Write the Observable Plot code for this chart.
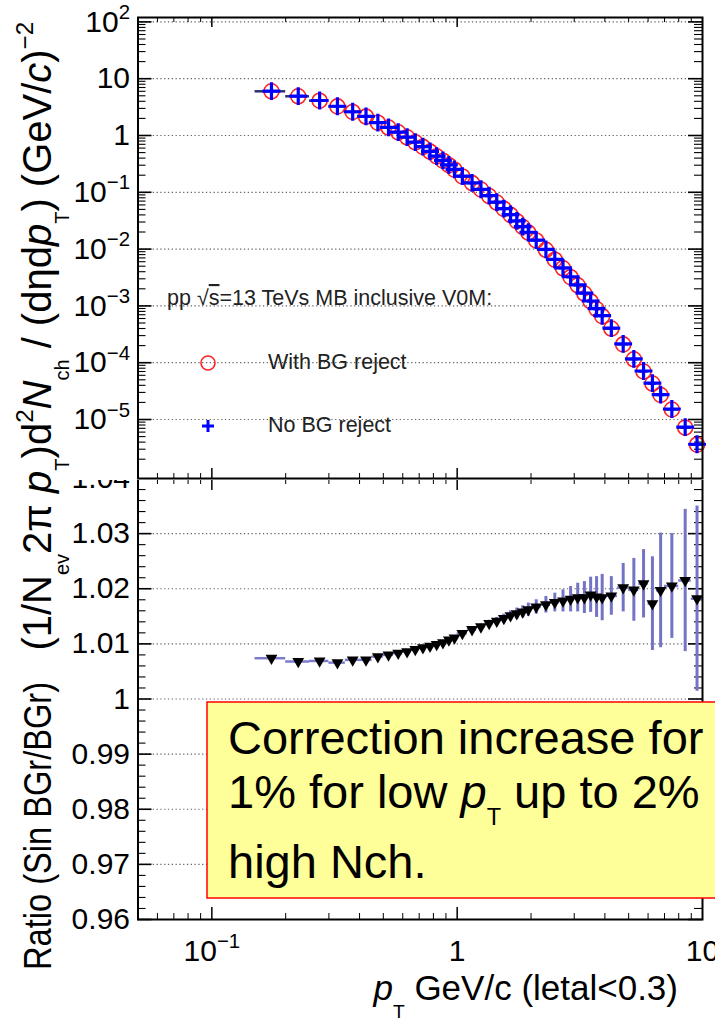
<!DOCTYPE html>
<html><head><meta charset="utf-8">
<script src="https://cdn.jsdelivr.net/npm/d3@7"></script>
<script src="https://cdn.jsdelivr.net/npm/@observablehq/plot@0.6"></script>
<style>
html,body{margin:0;padding:0;background:#fff;overflow:hidden;}
#wrap{position:relative;width:715px;height:1027px;overflow:hidden;}
#wrap svg{position:absolute;left:0;}
</style></head><body><div id="wrap"></div>
<script>
// ---------------- data ----------------
const ptEdges = [0.15,0.2,0.25,0.3,0.35,0.4,0.45,0.5,0.55,0.6,0.65,0.7,0.75,0.8,0.85,0.9,0.95,1.0,
  1.1,1.2,1.3,1.4,1.5,1.6,1.7,1.8,1.9,2.0,2.2,2.4,2.6,2.8,3.0,3.2,3.4,3.6,3.8,4.0,
  4.5,5.0,5.5,6.0,6.5,7.0,8.0,9.0,10.0];
const ptCenters = [0.175,0.225,0.275,0.325,0.375,0.425,0.475,0.525,0.575,0.625,0.675,0.725,0.775,0.825,0.875,0.925,0.975,
  1.05,1.15,1.25,1.35,1.45,1.55,1.65,1.75,1.85,1.95,2.1,2.3,2.5,2.7,2.9,3.1,3.3,3.5,3.7,3.9,
  4.25,4.75,5.25,5.75,6.25,6.75,7.5,8.5,9.5];
const withBG = [6.0,4.9,4.1,3.25,2.6,2.15,1.68,1.38,1.14,0.93,0.76,0.63,0.52,0.43,0.36,0.30,0.25,
  0.19,0.145,0.112,0.086,0.066,0.051,0.040,0.031,0.0245,0.0195,
  0.0142,0.0097,0.0065,0.0046,0.0032,0.0023,0.00165,0.00120,0.00088,0.00066,
  0.00040,0.00021,0.000115,0.000070,0.000043,0.000027,0.0000150,0.0000072,0.0000036];
const noBG = [6.04,4.93,4.13,3.27,2.62,2.17,1.69,1.39,1.15,0.938,0.767,0.636,0.525,0.434,0.364,0.303,0.253,
  0.192,0.147,0.113,0.0872,0.0669,0.0517,0.0406,0.0315,0.0249,0.0198,
  0.0144,0.00987,0.00661,0.00468,0.00326,0.00234,0.00168,0.00122,0.000896,0.000672,
  0.000407,0.000214,0.000117,0.0000715,0.0000437,0.0000275,0.0000153,0.00000735,0.00000367];
const ratio = [1.0074,1.0068,1.0069,1.0066,1.0071,1.0071,1.0077,1.0080,1.0083,1.0086,1.0090,1.0093,1.0096,1.0099,1.0102,1.0107,1.0111,
  1.0119,1.0126,1.0131,1.0137,1.0141,1.0146,1.0151,1.0155,1.0158,1.0162,
  1.0167,1.0171,1.0175,1.0178,1.0181,1.0184,1.0184,1.0189,1.0185,1.0184,
  1.0187,1.0202,1.0198,1.0209,1.0173,1.0197,1.0205,1.0215,1.0182];
const ratioErr = [0.0002,0.0002,0.0002,0.0002,0.0002,0.0002,0.0002,0.0002,0.0003,0.0003,0.0003,0.0003,0.0003,0.0003,0.0003,0.0003,0.0003,
  0.0004,0.0005,0.0005,0.0006,0.0007,0.0008,0.0009,0.0010,0.0011,0.0012,
  0.0013,0.0015,0.0017,0.0020,0.0023,0.0026,0.0029,0.0032,0.0037,0.0042,
  0.0035,0.0044,0.0057,0.0062,0.0085,0.0104,0.0095,0.0129,0.0168];

const yTicksTop = [1e2,1e1,1,1e-1,1e-2,1e-3,1e-4,1e-5];
const yTickLabelsTop = ["10^2","10","1","10^-1","10^-2","10^-3","10^-4","10^-5"];
const yTicksBottom = [0.96,0.97,0.98,0.99,1.0,1.01,1.02,1.03,1.04];
const yTickLabelsBottom = ["0.96","0.97","0.98","0.99","1","1.01","1.02","1.03","1.04"];
const xTicks = [0.1,1,10];
const xTickLabels = ["10^-1","1","10"];

const legendHeader = "pp \u221A|s|=13 TeVs MB inclusive V0M:";
const legendLabels = ["With BG reject","No BG reject"];
const noteLines = [
  ["Correction increase for"],
  ["1% for low ", {t:"p", it:true}, {t:"T", sub:true}, " up to 2%"],
  ["high Nch."]
];

// ---------------- helpers ----------------
const FONT = "'Liberation Sans', Arial, Helvetica, sans-serif";
const W = 715;
const xDomain = [0.05, 10];
const TICKFS = 30;

function logMinor(lo, hi) {
  const out = [];
  for (let e = -8; e <= 3; e++) for (let k = 2; k <= 9; k++) {
    const v = k * Math.pow(10, e);
    if (v > lo * 1.0001 && v < hi * 0.9999) out.push(v);
  }
  return out;
}
function yEdgeTicks(values, len, plotW, sw) {
  return [
    Plot.tickY(values, {y: d => d, insetRight: plotW - len, stroke: "#000", strokeWidth: sw}),
    Plot.tickY(values, {y: d => d, insetLeft: plotW - len, stroke: "#000", strokeWidth: sw})
  ];
}
function xEdgeTicks(values, len, plotH, sw) {
  return [
    Plot.tickX(values, {x: d => d, insetTop: plotH - len, stroke: "#000", strokeWidth: sw}),
    Plot.tickX(values, {x: d => d, insetBottom: plotH - len, stroke: "#000", strokeWidth: sw})
  ];
}
function supify(svg, fs) {
  d3.select(svg).selectAll("text").each(function () {
    const s = this.textContent;
    if (!s.includes("^")) return;
    const [b, e] = s.split("^");
    const t = d3.select(this);
    t.text(null);
    t.append("tspan").text(b);
    t.append("tspan").attr("dy", -0.42 * fs).attr("font-size", 0.68 * fs).text(e.replace("-", "\u2212"));
  });
}
function rich(textSel, parts, fs, opt = {}) {
  const subShift = opt.subShift ?? 0.3, subSize = opt.subSize ?? 0.65;
  const supShift = opt.supShift ?? -0.42, supSize = opt.supSize ?? 0.65;
  let shift = 0;
  parts.forEach(p => {
    const o = typeof p === "string" ? {t: p} : p;
    let target = 0, size = fs;
    if (o.sub) { target = subShift * fs; size = subSize * fs; }
    if (o.sup) { target = supShift * fs; size = supSize * fs; }
    const ts = textSel.append("tspan").text(o.t).attr("font-size", size);
    if (target !== shift) { ts.attr("dy", target - shift); shift = target; }
    if (o.it) ts.attr("font-style", "italic");
    if (o.over) ts.attr("text-decoration", "overline");
  });
}
const gridStyle = {stroke: "#666", strokeDasharray: "1.3,2.5", strokeWidth: 1.2};

// ---------------- top panel ----------------
const topData = ptCenters.map((x, i) => ({x, lo: ptEdges[i], hi: ptEdges[i + 1], w: withBG[i], n: noBG[i]}));
const topDomainY = [9.15e-7, 119.5];
const topW = W - 137.5 - 13, topH = 480 - 17 - 2;
const topPlot = Plot.plot({
  width: W, height: 480, marginLeft: 137.5, marginRight: 13, marginTop: 17, marginBottom: 2,
  style: {background: "white", fontFamily: FONT, overflow: "visible", top: "0px"},
  x: {type: "log", domain: xDomain, axis: null},
  y: {type: "log", domain: topDomainY, axis: null},
  marks: [
    Plot.ruleY(yTicksTop, {y: d => d, ...gridStyle}),
    ...yEdgeTicks(yTicksTop, 14, topW, 1.6),
    ...yEdgeTicks(logMinor(topDomainY[0], topDomainY[1]), 8, topW, 1.1),
    ...xEdgeTicks([0.1, 1], 10, topH, 1.5),
    ...xEdgeTicks(logMinor(xDomain[0], xDomain[1]), 5, topH, 1),
    Plot.ruleY(topData, {y: "w", x1: "lo", x2: "hi", stroke: "#2e3072", strokeWidth: 2.5}),
    Plot.dot(topData, {x: "x", y: "w", r: 7.5, stroke: "#ff2424", strokeWidth: 1.6, fill: "none"}),
    Plot.dot(topData, {x: "x", y: "n", symbol: "plus", r: 5.8, stroke: "#0000ff", strokeWidth: 3.2}),
    Plot.axisY(yTicksTop, {anchor: "left", tickSize: 0, tickPadding: 8, fontSize: TICKFS, label: null,
      tickFormat: d => yTickLabelsTop[yTicksTop.indexOf(d)]}),
    Plot.frame({stroke: "#000", strokeWidth: 2})
  ]
});

// ---------------- bottom panel ----------------
const botData = ptCenters.map((x, i) => ({x, lo: ptEdges[i], hi: ptEdges[i + 1], r: ratio[i], e: ratioErr[i]}));
const botTop = 440, botH = 587, botPlotH = botH - 38 - 108;
const bottomMinor = d3.range(480, 521).filter(i => i % 5 !== 0).map(i => i * 0.002);
const botPlot = Plot.plot({
  width: W, height: botH, marginLeft: 137.5, marginRight: 13, marginTop: 38, marginBottom: 108,
  style: {background: "white", fontFamily: FONT, overflow: "visible", top: botTop + "px"},
  x: {type: "log", domain: xDomain, axis: null},
  y: {domain: [0.96, 1.04], axis: null},
  marks: [
    Plot.ruleY(yTicksBottom.slice(1, -1), {y: d => d, ...gridStyle}),
    ...yEdgeTicks(yTicksBottom, 14, topW, 1.6),
    ...yEdgeTicks(bottomMinor, 8, topW, 1.1),
    ...xEdgeTicks([0.1, 1], 12, botPlotH, 1.5),
    ...xEdgeTicks(logMinor(xDomain[0], xDomain[1]), 6, botPlotH, 1),
    Plot.ruleY(botData, {y: "r", x1: "lo", x2: "hi", stroke: "#7b7bcc", strokeWidth: 2.5}),
    Plot.ruleX(botData, {x: "x", y1: d => d.r - d.e, y2: d => d.r + d.e, stroke: "#7474c6", strokeWidth: 3}),
    Plot.dot(botData, {x: "x", y: "r", symbol: "triangle", rotate: 180, r: 4.4, fill: "#000", stroke: "none"}),
    Plot.axisY(yTicksBottom, {anchor: "left", tickSize: 0, tickPadding: 8, fontSize: TICKFS, label: null,
      tickFormat: d => yTickLabelsBottom[yTicksBottom.indexOf(d)]}),
    Plot.axisX(xTicks, {anchor: "bottom", tickSize: 0, tickPadding: 20, fontSize: TICKFS, label: null,
      tickFormat: d => xTickLabels[xTicks.indexOf(d)]}),
    Plot.frame({stroke: "#000", strokeWidth: 2})
  ]
});

const wrap = document.getElementById("wrap");
botPlot.style.top = botTop + "px";
topPlot.style.top = "0px";
wrap.appendChild(botPlot);
wrap.appendChild(topPlot);
supify(topPlot, TICKFS);
supify(botPlot, TICKFS);

// x-axis title inside bottom svg
const xt = d3.select(botPlot).append("text")
  .attr("x", 678).attr("y", 1000 - botTop).attr("text-anchor", "end")
  .attr("font-family", FONT).attr("fill", "#000");
rich(xt, [{t: "p", it: true}, {t: "T", sub: true}, " GeV/c (letal<0.3)"], 35, {subShift: 0.5, subSize: 0.55});

// ---------------- overlay: y titles, legend, note ----------------
const ov = d3.select(wrap).append("svg")
  .attr("width", W).attr("height", 1027).style("top", "0px")
  .attr("font-family", FONT).style("pointer-events", "none");

// y titles (rotated)
const yt1 = ov.append("text").attr("transform", "translate(51,22) rotate(-90)")
  .attr("text-anchor", "end").attr("fill", "#000");
rich(yt1, ["(1/N", {t: "ev", sub: true}, "2\u03C0 ", {t: "p", it: true}, {t: "T", sub: true}, ")d",
  {t: "2", sup: true}, {t: "N", it: true}, {t: "ch", sub: true}, " / (d\u03B7d", {t: "p", it: true},
  {t: "T", sub: true}, ") (GeV/", {t: "c", it: true}, ")", {t: "\u22122", sup: true}],
  40, {subShift: 0.45, subSize: 0.5, supShift: -0.45, supSize: 0.6});
ov.append("text").attr("transform", "translate(51,970) rotate(-90)")
  .attr("text-anchor", "start").attr("fill", "#000").attr("font-size", 39)
  .attr("textLength", 288).attr("lengthAdjust", "spacingAndGlyphs")
  .text("Ratio (Sin BGr/BGr)");

// legend
const hdr = ov.append("text").attr("x", 167).attr("y", 305).attr("fill", "#222");
const hp = legendHeader.split("|");
rich(hdr, [hp[0], {t: hp[1], over: true}, hp[2]], 21.5);
ov.append("circle").attr("cx", 208).attr("cy", 363).attr("r", 7)
  .attr("fill", "none").attr("stroke", "#ff2424").attr("stroke-width", 1.6);
ov.append("path").attr("d", "M202,426H214M208,420V432").attr("stroke", "#0000ff").attr("stroke-width", 3);
ov.append("text").attr("x", 268).attr("y", 369).attr("font-size", 21.5).attr("fill", "#222").text(legendLabels[0]);
ov.append("text").attr("x", 268).attr("y", 432).attr("font-size", 21.5).attr("fill", "#222").text(legendLabels[1]);

// note box
ov.append("rect").attr("x", 207).attr("y", 702).attr("width", 560).attr("height", 196)
  .attr("fill", "#ffff99").attr("stroke", "#ff0000").attr("stroke-width", 1.5);
const baselines = [754, 808, 878];
noteLines.forEach((parts, i) => {
  const t = ov.append("text").attr("x", 228).attr("y", baselines[i]).attr("fill", "#000");
  rich(t, parts, 47, {subShift: 0.36, subSize: 0.5});
});
</script></body></html>
